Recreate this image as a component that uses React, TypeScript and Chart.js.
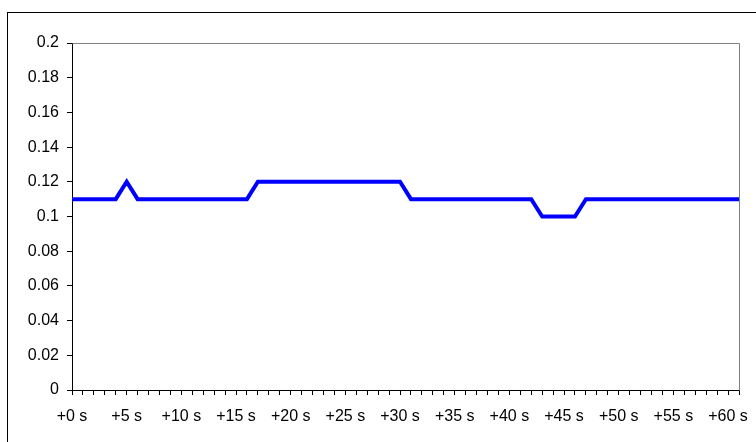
import React, { useEffect, useRef } from "react";
import { Chart, registerables } from "chart.js";

Chart.register(...registerables);

// 62 samples, one per second (+0 s ... +61 s)
const seconds: number[] = Array.from({ length: 62 }, (_, i) => i);
const categories: string[] = seconds.map((s) => `+${s} s`);

const values: number[] = [
  0.11, 0.11, 0.11, 0.11, 0.11, 0.12, 0.11, 0.11, 0.11, 0.11,
  0.11, 0.11, 0.11, 0.11, 0.11, 0.11, 0.11, 0.12, 0.12, 0.12,
  0.12, 0.12, 0.12, 0.12, 0.12, 0.12, 0.12, 0.12, 0.12, 0.12,
  0.12, 0.11, 0.11, 0.11, 0.11, 0.11, 0.11, 0.11, 0.11, 0.11,
  0.11, 0.11, 0.11, 0.10, 0.10, 0.10, 0.10, 0.11, 0.11, 0.11,
  0.11, 0.11, 0.11, 0.11, 0.11, 0.11, 0.11, 0.11, 0.11, 0.11,
  0.11, 0.11,
];

const yTickLabels: string[] = [
  "0", "0.02", "0.04", "0.06", "0.08", "0.1", "0.12", "0.14", "0.16", "0.18", "0.2",
];

const FONT = "'Liberation Sans', Arial, sans-serif";

const frames = {
  id: "frames",
  beforeDatasetsDraw(chart: any) {
    const { ctx, chartArea } = chart;
    ctx.save();
    ctx.strokeStyle = "#808080";
    ctx.lineWidth = 1;
    ctx.beginPath();
    ctx.moveTo(Math.round(chartArea.left) + 0.5, Math.round(chartArea.top) + 0.5);
    ctx.lineTo(Math.round(chartArea.right) + 0.5, Math.round(chartArea.top) + 0.5);
    ctx.lineTo(Math.round(chartArea.right) + 0.5, Math.round(chartArea.bottom) + 0.5);
    ctx.stroke();
    ctx.restore();
  },
  afterDraw(chart: any) {
    const { ctx } = chart;
    ctx.save();
    ctx.fillStyle = "#000000";
    ctx.fillRect(7, 12, 1, chart.height - 12);
    ctx.fillRect(7, 12, chart.width - 7, 1);
    ctx.restore();
  },
};

export default function App() {
  const ref = useRef<HTMLCanvasElement | null>(null);

  useEffect(() => {
    if (!ref.current) return;
    const chart = new Chart(ref.current, {
      type: "line",
      data: {
        labels: categories,
        datasets: [
          {
            data: values,
            borderColor: "#0000FF",
            borderWidth: 4,
            pointRadius: 0,
            tension: 0,
            fill: false,
            borderJoinStyle: "miter",
          },
        ],
      },
      options: {
        animation: false,
        responsive: false,
        maintainAspectRatio: false,
        layout: { padding: { left: 0, right: 17, top: 43, bottom: 18 } },
        plugins: {
          legend: { display: false },
          tooltip: { enabled: false },
        },
        scales: {
          x: {
            type: "category",
            offset: false,
            afterFit: (s: any) => {
              s.height = 34;
            },
            grid: {
              display: true,
              drawOnChartArea: false,
              drawTicks: true,
              tickLength: 5,
              color: "#000000",
            },
            border: { display: true, color: "#000000", width: 1 },
            ticks: {
              autoSkip: false,
              maxRotation: 0,
              minRotation: 0,
              padding: 12,
              color: "#000000",
              font: { family: FONT, size: 16 },
              callback: (_v: any, i: number) => (i % 5 === 0 ? categories[i] : ""),
            },
          },
          y: {
            min: 0,
            max: 0.2,
            afterFit: (s: any) => {
              s.width = 72;
            },
            grid: {
              display: true,
              drawOnChartArea: false,
              drawTicks: true,
              tickLength: 5,
              color: "#000000",
            },
            border: { display: true, color: "#000000", width: 1 },
            ticks: {
              stepSize: 0.02,
              padding: 8,
              color: "#000000",
              font: { family: FONT, size: 16 },
              callback: (_v: any, i: number) => yTickLabels[i] ?? "",
            },
          },
        },
      },
      plugins: [frames],
    });
    return () => chart.destroy();
  }, []);

  return (
    <div
      style={{
        position: "fixed",
        left: 0,
        top: 0,
        width: 756,
        height: 442,
        overflow: "hidden",
        background: "#ffffff",
      }}
    >
      <canvas
        ref={ref}
        width={756}
        height={442}
        style={{ position: "absolute", left: 0, top: 0, width: 756, height: 442 }}
      />
    </div>
  );
}
